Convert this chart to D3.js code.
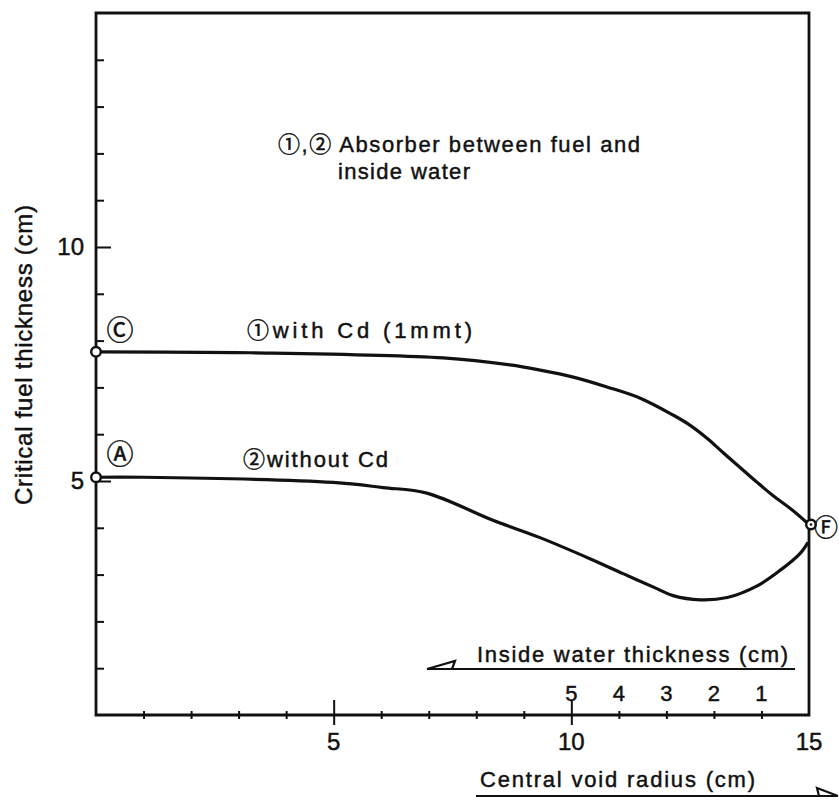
<!DOCTYPE html>
<html>
<head>
<meta charset="utf-8">
<script src="https://cdn.jsdelivr.net/npm/d3@7"></script>
<style>
  body { margin: 0; background: #fff; }
  svg { display: block; }
  text { font-family: "Liberation Sans", Arial, "Noto Sans CJK JP", sans-serif; fill: #111; stroke: #111; stroke-width: 0.45px; }
</style>
</head>
<body>
<div id="chart"></div>
<script>
// curve 1: absorber (Cd, 1 mm) between fuel and inside water
var radiusWithCd = [0, 3.24, 7.30, 8.71, 9.34, 10.04, 10.75, 11.45, 12.14, 12.50, 12.86, 13.19, 13.55, 13.91, 14.24, 14.66, 15.0];
var thicknessWithCd = [7.76, 7.74, 7.63, 7.48, 7.37, 7.22, 7.01, 6.77, 6.41, 6.19, 5.91, 5.61, 5.29, 4.97, 4.69, 4.37, 4.07];
// curve 2: no absorber
var radiusWithoutCd = [0, 0.99, 4.99, 6.04, 6.96, 8.35, 9.34, 10.39, 11.09, 11.80, 12.14, 12.71, 13.28, 13.91, 14.39, 14.81, 14.98];
var thicknessWithoutCd = [5.08, 5.08, 4.97, 4.86, 4.74, 4.16, 3.79, 3.34, 3.02, 2.70, 2.55, 2.46, 2.51, 2.76, 3.09, 3.45, 3.69];

var radiusTicks = d3.range(1, 15);
var radiusLabels = [5, 10, 15];
var thicknessTicks = d3.range(1, 15);
var thicknessLabels = [5, 10];
var waterLabels = [1, 2, 3, 4, 5];

// end points marked with small open circles
var markers = [
  { id: 'Ⓒ', r: 0, t: 7.76 },
  { id: 'Ⓐ', r: 0, t: 5.08 },
  { id: 'Ⓕ', r: 15, t: 4.07 }
];

var width = 839, height = 800;
var svg = d3.select('#chart').append('svg')
  .attr('width', width)
  .attr('height', height);

var x = d3.scaleLinear().domain([0, 15]).range([96, 809]);
var y = d3.scaleLinear().domain([0, 15]).range([715, 13]);
// inside water thickness runs the other way: 15 - radius
var w = d3.scaleLinear().domain([0, 15]).range([x(15), x(0)]);

// frame
svg.append('path')
  .attr('d', 'M' + x(0) + ',' + y(15) + 'H' + x(15) + 'V' + y(0) + 'H' + x(0) + 'Z')
  .attr('fill', 'none')
  .attr('stroke', '#111')
  .attr('stroke-width', 2.8);

// left axis, ticks pointing inward
var yAxis = svg.append('g')
  .attr('transform', 'translate(' + x(0) + ',0)')
  .call(d3.axisLeft(y)
    .tickValues(thicknessTicks)
    .tickSize(-8)
    .tickPadding(12)
    .tickFormat(function (d) { return thicknessLabels.indexOf(d) >= 0 ? d : ''; }));
yAxis.select('.domain').remove();
yAxis.selectAll('line')
  .attr('stroke', '#111')
  .attr('stroke-width', 2)
  .attr('x2', function (d) { return thicknessLabels.indexOf(d) >= 0 ? 15 : 8; });
yAxis.selectAll('text')
  .attr('font-size', 24)
  .attr('font-family', '"Liberation Sans", Arial, sans-serif')
  .attr('fill', '#111');

// bottom axis, ticks crossing the line
var xAxis = svg.append('g')
  .attr('transform', 'translate(0,' + y(0) + ')')
  .call(d3.axisBottom(x)
    .tickValues(radiusTicks)
    .tickSize(4)
    .tickFormat(''));
xAxis.select('.domain').remove();
xAxis.selectAll('line')
  .attr('stroke', '#111')
  .attr('stroke-width', 2)
  .attr('y1', function (d) { return radiusLabels.indexOf(d) >= 0 ? -15 : -4; })
  .attr('y2', function (d) { return radiusLabels.indexOf(d) >= 0 ? 10 : 4; });

svg.append('g').selectAll('text')
  .data(radiusLabels)
  .enter()
  .append('text')
  .attr('x', function (d) { return x(d); })
  .attr('y', 750)
  .attr('text-anchor', 'middle')
  .attr('font-size', 24)
  .text(function (d) { return d; });

// inside water thickness numbers above the axis
svg.append('g').selectAll('text')
  .data(waterLabels)
  .enter()
  .append('text')
  .attr('x', function (d) { return w(d); })
  .attr('y', 701)
  .attr('text-anchor', 'middle')
  .attr('font-size', 22)
  .text(function (d) { return d; });

// curves
var line = d3.line()
  .x(function (d) { return x(d[0]); })
  .y(function (d) { return y(d[1]); })
  .curve(d3.curveCatmullRom.alpha(0.5));

svg.append('path')
  .datum(d3.zip(radiusWithCd, thicknessWithCd))
  .attr('d', line)
  .attr('fill', 'none')
  .attr('stroke', '#111')
  .attr('stroke-width', 3.2);

svg.append('path')
  .datum(d3.zip(radiusWithoutCd, thicknessWithoutCd))
  .attr('d', line)
  .attr('fill', 'none')
  .attr('stroke', '#111')
  .attr('stroke-width', 3.2);

svg.selectAll('circle.mark')
  .data(markers)
  .enter()
  .append('circle')
  .classed('mark', true)
  .attr('cx', function (d) { return x(d.r) + (d.r === 15 ? 2 : 0); })
  .attr('cy', function (d) { return y(d.t); })
  .attr('r', 4.8)
  .attr('fill', '#fff')
  .attr('stroke', '#111')
  .attr('stroke-width', 2.4);
svg.append('circle')
  .attr('cx', x(15) + 2)
  .attr('cy', y(4.07))
  .attr('r', 1.3)
  .attr('fill', '#111');

svg.selectAll('text.mark')
  .data(markers)
  .enter()
  .append('text')
  .classed('mark', true)
  .attr('x', function (d) { return d.r === 15 ? 826 : 120; })
  .attr('y', function (d, i) { return [331, 455, 527][i]; })
  .attr('text-anchor', 'middle')
  .attr('dominant-baseline', 'central')
  .attr('font-size', function (d) { return d.r === 15 ? 24 : 27; })
  .attr('font-family', '"Noto Sans CJK JP", "DejaVu Sans", sans-serif')
  .text(function (d) { return d.id; });

// annotations
var notes = [
  { text: '①,② Absorber between fuel and', x: 278, y: 152, len: 362 },
  { text: 'inside water', x: 338, y: 179, len: 132 },
  { text: '①with Cd (1mmt)', x: 247, y: 338, len: 225 },
  { text: '②without Cd', x: 243, y: 467, len: 145 },
  { text: 'Inside water thickness (cm)', x: 477, y: 662, len: 311 },
  { text: 'Central void radius (cm)', x: 480, y: 787, len: 275 }
];
svg.append('g').selectAll('text')
  .data(notes)
  .enter()
  .append('text')
  .attr('x', function (d) { return d.x; })
  .attr('y', function (d) { return d.y; })
  .attr('font-size', 22)
  .attr('textLength', function (d) { return d.len; })
  .attr('lengthAdjust', 'spacing')
  .text(function (d) { return d.text; });

// axis title
svg.append('text')
  .attr('transform', 'translate(32,355) rotate(-90)')
  .attr('text-anchor', 'middle')
  .attr('font-size', 24)
  .attr('textLength', 300)
  .attr('lengthAdjust', 'spacing')
  .text('Critical fuel thickness (cm)');

// underlines with arrows
svg.append('path')
  .attr('d', 'M427,669H795 M427,669L455,661L452,669')
  .attr('fill', 'none')
  .attr('stroke', '#111')
  .attr('stroke-width', 2.2);
svg.append('path')
  .attr('d', 'M476,796H838 M838,796L817,788L819,796')
  .attr('fill', 'none')
  .attr('stroke', '#111')
  .attr('stroke-width', 2.2);
</script>
</body>
</html>
